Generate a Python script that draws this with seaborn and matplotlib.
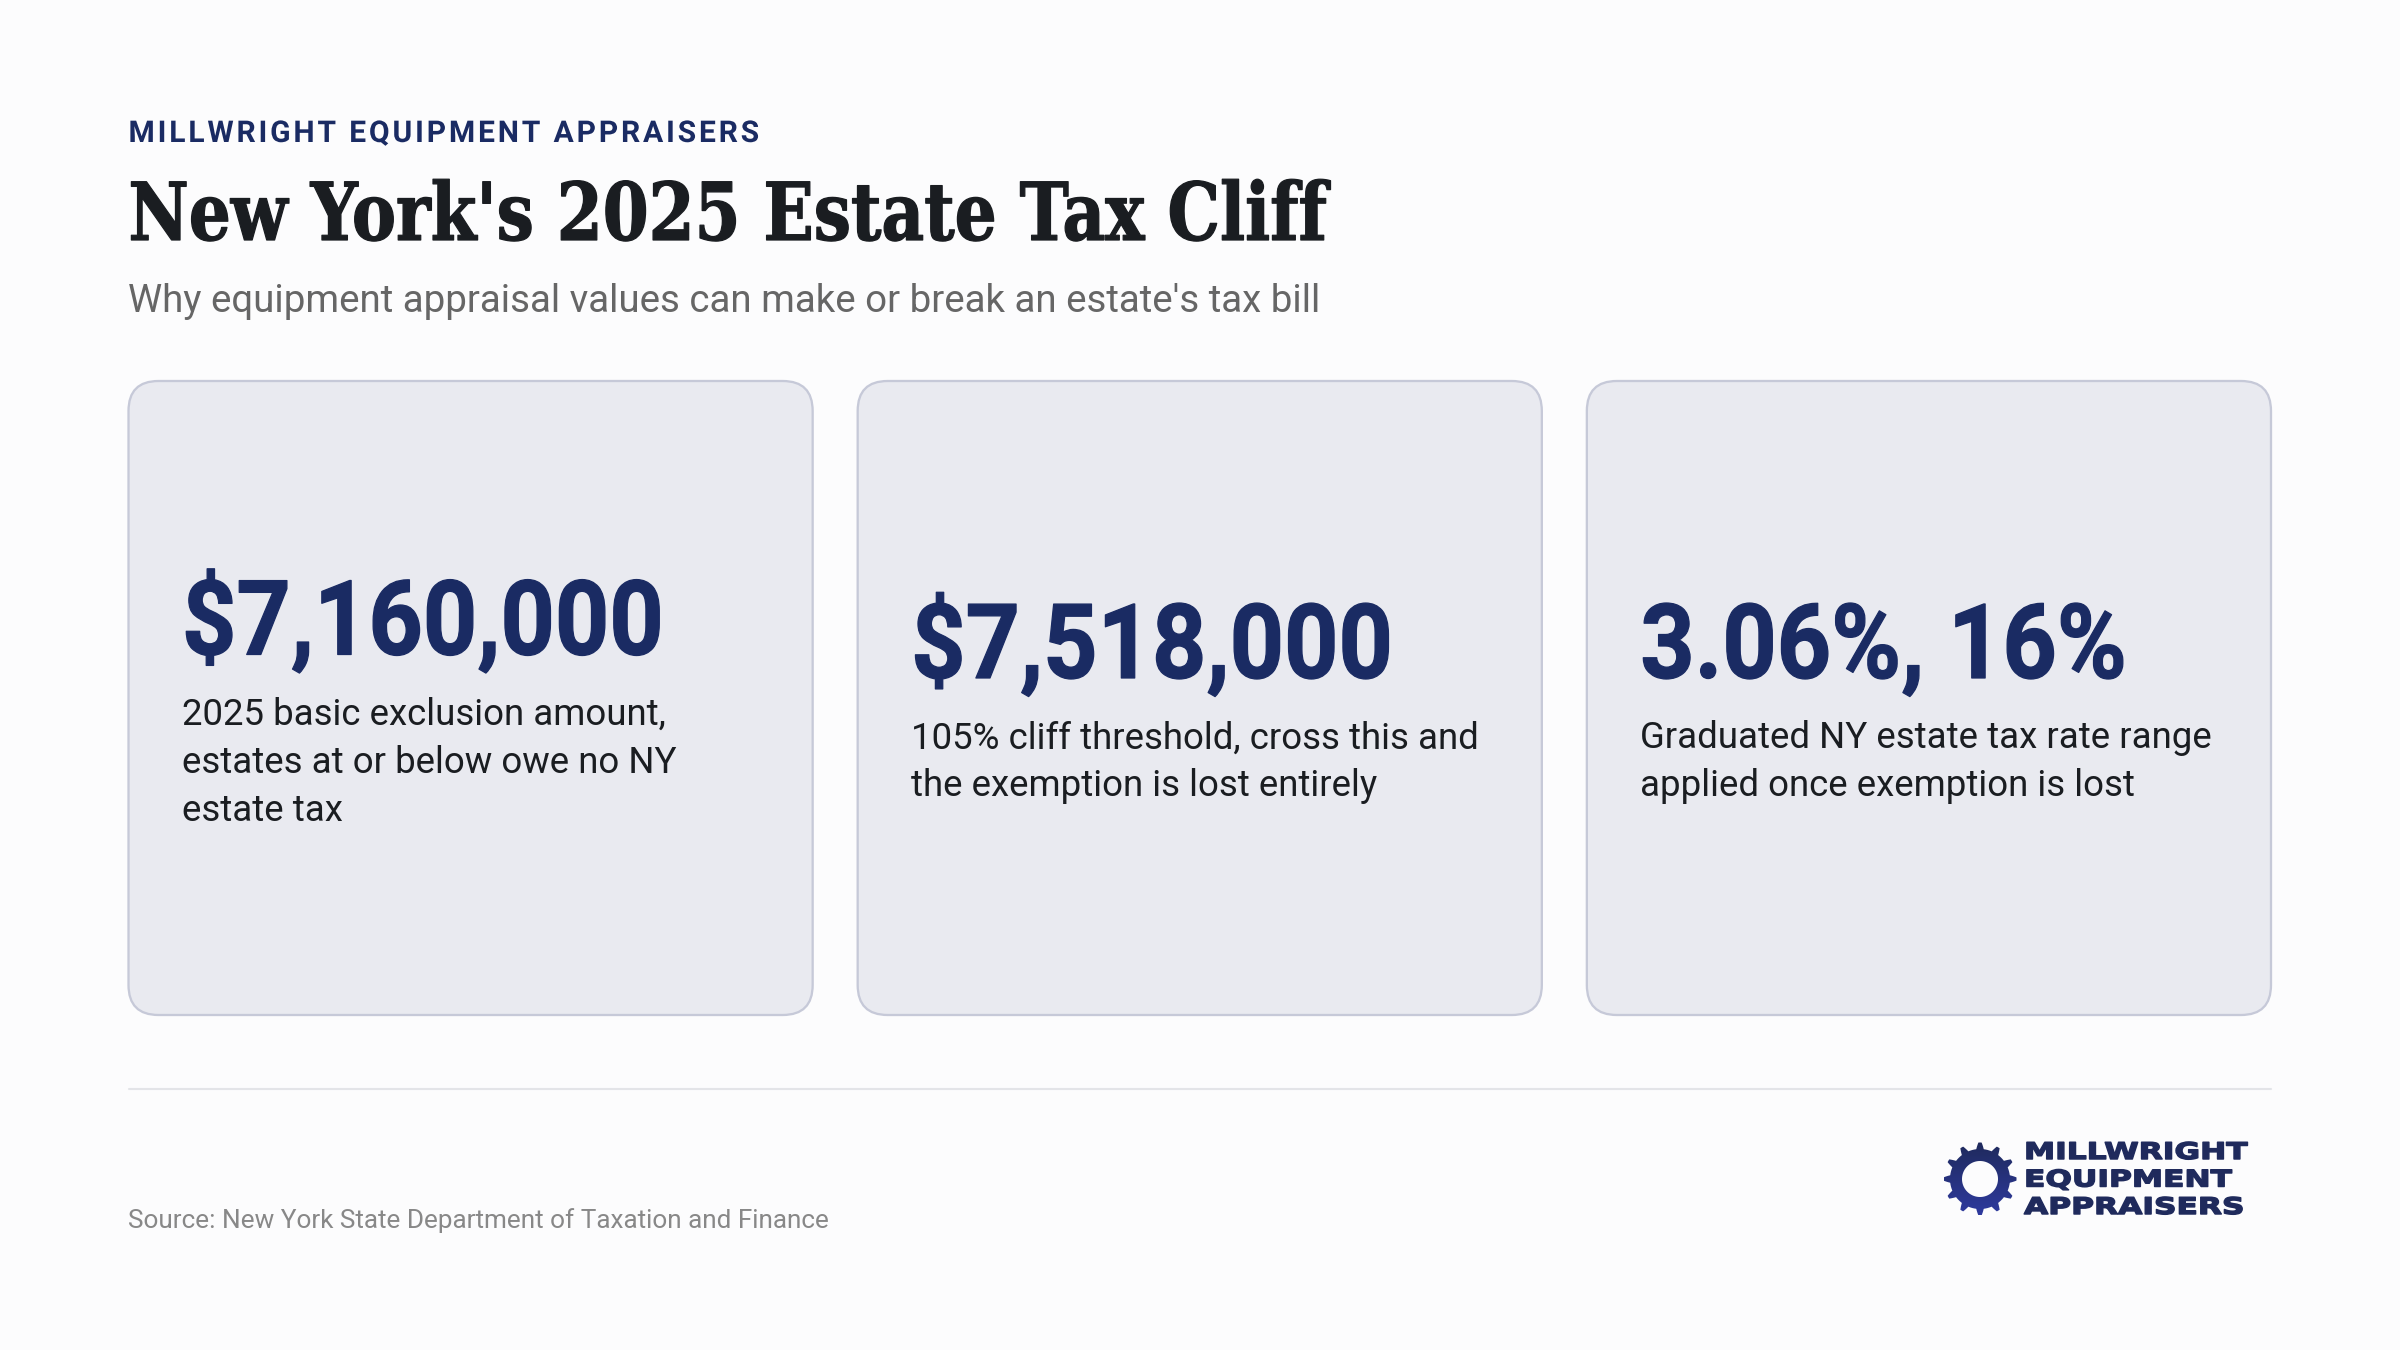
import numpy as np
import matplotlib
matplotlib.use("Agg")
import matplotlib.pyplot as plt
import seaborn as sns
from matplotlib.patches import FancyBboxPatch, PathPatch
from matplotlib.patheffects import AbstractPathEffect
from matplotlib.path import Path
from matplotlib.transforms import Affine2D

eyebrow = "MILLWRIGHT EQUIPMENT APPRAISERS"
title = "New York's 2025 Estate Tax Cliff"
subtitle = "Why equipment appraisal values can make or break an estate's tax bill"
source = "Source: New York State Department of Taxation and Finance"

card_values = ["$7,160,000", "$7,518,000", "3.06%, 16%"]
card_notes = [
    ["2025 basic exclusion amount,", "estates at or below owe no NY", "estate tax"],
    ["105% cliff threshold, cross this and", "the exemption is lost entirely"],
    ["Graduated NY estate tax rate range", "applied once exemption is lost"],
]
logo_lines = ["MILLWRIGHT", "EQUIPMENT", "APPRAISERS"]

BG = "#fcfcfd"
NAVY = "#1a2b63"
INK = "#1a1d21"
DPI = 150


def px(size):
    # font sizes below are in pixels of the final image
    return size * 72 / DPI


class Stretch(AbstractPathEffect):
    # the fonts on hand are wider or narrower than the original ones
    def __init__(self, sx, heavy=0.0):
        super().__init__()
        self.sx = sx
        self.heavy = heavy

    def draw_path(self, renderer, gc, tpath, affine, rgbFace=None):
        gc0 = renderer.new_gc()
        gc0.copy_properties(gc)
        if self.heavy:
            gc0.set_linewidth(self.heavy)
            gc0.set_foreground(rgbFace)
        renderer.draw_path(gc0, tpath, Affine2D().scale(self.sx, 1) + affine, rgbFace)
        gc0.restore()


class Tracking(AbstractPathEffect):
    # letter spacing: move each glyph (contours that overlap in x) along a bit more
    def __init__(self, spacing):
        super().__init__()
        self.spacing = spacing

    def draw_path(self, renderer, gc, tpath, affine, rgbFace=None):
        step = self.spacing / affine.get_matrix()[0, 0]
        height = np.ptp(tpath.vertices[:, 1])
        verts = tpath.vertices.copy()
        starts = list(np.flatnonzero(tpath.codes == Path.MOVETO)) + [len(verts)]
        shift, right_edge = 0.0, None
        for a, b in zip(starts[:-1], starts[1:]):
            xs = tpath.vertices[a:b, 0]
            if right_edge is not None and xs.min() > right_edge:
                shift += step
                # a word gap counts as one more character
                if xs.min() - right_edge > 0.2 * height:
                    shift += step
            right_edge = xs.max() if right_edge is None else max(right_edge, xs.max())
            verts[a:b, 0] += shift
        renderer.draw_path(gc, Path(verts, tpath.codes), affine, rgbFace)


def draw_gear(ax, cx, cy, r_out, r_body, r_hole, teeth=12):
    # outline of body and teeth, hole cut with a reversed circle
    ang = np.linspace(0, 2 * np.pi, 720, endpoint=False)
    phase = (ang * teeth / (2 * np.pi) + 0.5) % 1
    bump = np.clip(1.55 - np.abs(phase - 0.5) * 6.5, 0, 1)
    rad = r_body + (r_out - r_body) * bump
    outer = np.c_[cx + rad * np.sin(ang), cy - rad * np.cos(ang)]
    ang2 = np.linspace(2 * np.pi, 0, 180, endpoint=False)
    hole = np.c_[cx + r_hole * np.sin(ang2), cy - r_hole * np.cos(ang2)]
    verts = np.vstack([outer, outer[:1], hole, hole[:1]])
    codes = ([Path.MOVETO] + [Path.LINETO] * (len(outer) - 1) + [Path.CLOSEPOLY]
             + [Path.MOVETO] + [Path.LINETO] * (len(hole) - 1) + [Path.CLOSEPOLY])
    clip = PathPatch(Path(verts, codes), fc="none", ec="none")
    ax.add_patch(clip)
    grad = np.linspace(0, 1, 64).reshape(-1, 1)
    cmap = matplotlib.colors.LinearSegmentedColormap.from_list("logo", ["#1f2a5c", "#2e3a9e"])
    im = ax.imshow(grad, cmap=cmap, aspect="auto", zorder=3,
                   extent=(cx - r_out, cx + r_out, cy + r_out, cy - r_out))
    im.set_clip_path(clip)


sns.set_theme(style="white", rc={"figure.facecolor": BG, "axes.facecolor": BG})

fig = plt.figure(figsize=(16, 9), dpi=DPI)
ax = fig.add_axes([0, 0, 1, 1])
ax.set_xlim(0, 2400)
ax.set_ylim(1350, 0)
sns.despine(ax=ax, left=True, bottom=True)
ax.set_xticks([])
ax.set_yticks([])

left, right = 128.5, 2271
ax.text(left, 142, eyebrow, fontsize=px(30), fontfamily="Roboto", fontweight="bold", color=NAVY, va="baseline",
        path_effects=[Tracking(2.85)])
ax.text(left, 240, title, fontsize=px(80), fontfamily="DejaVu Serif", fontweight="bold", color=INK, va="baseline",
        path_effects=[Stretch(0.825, 0.6)])
ax.text(left, 312.5, subtitle, fontsize=px(38.5), fontfamily="Roboto", color="#666666", va="baseline")

# three equal cards with a fixed gutter
gap = 45
card_w = (right - left - gap * (len(card_values) - 1)) / len(card_values)
card_top, card_bottom = 381, 1015
pad = 30
for i, (value, notes) in enumerate(zip(card_values, card_notes)):
    x0 = left + i * (card_w + gap)
    ax.add_patch(FancyBboxPatch((x0 + pad, card_top + pad), card_w - 2 * pad, card_bottom - card_top - 2 * pad,
                                boxstyle=f"round,pad={pad},rounding_size={pad}", fc="#e9eaf0", ec="#c6c9d8", lw=1.1))
    # block is centred, so it moves up when the note runs longer
    base = 678 - (len(notes) - 2) * 23.5
    ax.text(x0 + 53.5, base, value, fontsize=px(104), fontfamily="Roboto", fontweight="bold", color=NAVY, va="baseline",
            path_effects=[Stretch(0.912, 0.6)])
    for j, line in enumerate(notes):
        ax.text(x0 + 53.5, base + 70.5 + j * 48, line, fontsize=px(36.7), fontfamily="Roboto", color=INK, va="baseline")

ax.plot([left, right], [1089, 1089], color="#e3e4e8", lw=1)
ax.text(left, 1228, source, fontsize=px(26.1), fontfamily="Roboto", color="#888888", va="baseline")

draw_gear(ax, 1980, 1179, 36.5, 30, 18)
for k, line in enumerate(logo_lines):
    ax.text(2024, 1159 + k * 27.5, line, fontsize=px(23), fontfamily="DejaVu Sans", fontweight="bold", color="#1f2a5c", va="baseline",
            path_effects=[Stretch(1.36, 0.7)])

ax.set_xlim(0, 2400)
ax.set_ylim(1350, 0)
fig.savefig("out.png", dpi=DPI, facecolor=BG)
